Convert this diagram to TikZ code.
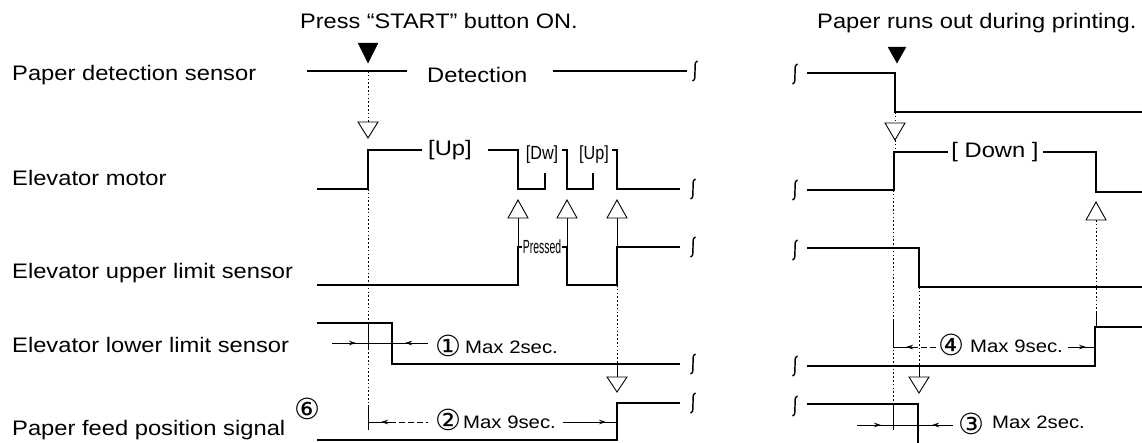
\documentclass[tikz,border=0pt]{standalone}
\usepackage{fontspec}
\usepackage{graphicx}
\setmainfont{Liberation Sans}
\newfontfamily\symfont{DejaVu Sans}
\usetikzlibrary{arrows.meta}
\newcommand{\stx}[1]{\scalebox{1.13}[1]{#1}}
\tikzset{
  sig/.style={line width=2.5pt, line join=miter},
  fine/.style={line width=0.8pt},
  dotl/.style={line width=0.8pt, dash pattern=on 1.6pt off 2.2pt},
  dashl/.style={line width=0.8pt, dash pattern=on 6pt off 3pt},
  lbl/.style={anchor=base west, inner sep=0pt, font=\fontsize{21}{25}\selectfont},
  dimlbl/.style={anchor=base west, inner sep=0pt, font=\fontsize{18}{22}\selectfont},
  circ/.style={inner sep=0pt, font=\symfont\fontsize{29}{32}\selectfont},
  midtxt/.style={inner sep=0pt, font=\fontsize{21}{25}\selectfont},
  smalltxt/.style={inner sep=0pt, font=\fontsize{19}{22}\selectfont},
  tip/.style={-{Stealth[length=7pt,width=4.5pt]}},
  opentri/.style={fill=white, draw, line width=0.9pt},
  filltri/.style={fill=black},
  squig/.pic={\draw[line width=1.4pt] (2.5,-10) .. controls (-1.5,-9) and (0.8,-3) .. (0,0) .. controls (-0.8,3) and (1.5,9) .. (-2.5,10);}
}
\begin{document}
\begin{tikzpicture}[x=1pt,y=-1pt]
\useasboundingbox (0,0) rectangle (1142,442);

% ---------- texts ----------
\node[lbl] (l1) at (12,80) {\stx{Paper detection sensor}};
\node[lbl] (l2) at (12,185) {\stx{Elevator motor}};
\node[lbl] (l3) at (12,278) {\stx{Elevator upper limit sensor}};
\node[lbl] (l4) at (12,352) {\stx{Elevator lower limit sensor}};
\node[lbl] (l5) at (12,435) {\stx{Paper feed position signal}};
\node[circ] (c6) at (307,409) {⑥};
\node[lbl] (t1) at (300,28) {\scalebox{1.12}[1]{Press “START” button ON.}};
\node[lbl] (t2) at (817,28) {\stx{Paper runs out during printing.}};
\node[lbl] (det) at (427,82) {\stx{Detection}};

\node[midtxt] (up1) at (450,150) {\stx{[Up]}};
\node[smalltxt] (dw) at (542,155) {\scalebox{0.85}[1]{[Dw]}};
\node[smalltxt] (up2) at (594,155) {\scalebox{0.85}[1]{[Up]}};
\node[midtxt] (down) at (995,152) {\stx{[ Down ]}};
\node[smalltxt] (prs) at (542,247) {\scalebox{0.55}[1]{Pressed}};

\node[circ] (n1) at (448,346) {①};
\node[dimlbl] (d1) at (465,353) {\stx{Max 2sec.}};
\node[circ] (n2) at (448,420) {②};
\node[dimlbl] (d2) at (463,428) {\stx{Max 9sec.}};
\node[circ] (n4) at (951,345) {④};
\node[dimlbl] (d4) at (970,352) {\stx{Max 9sec.}};
\node[circ] (n3) at (971,424) {③};
\node[dimlbl] (d3) at (992,428) {\stx{Max 2sec.}};

% ---------- left: paper detection ----------
\draw[sig] (307,71) -- (407,71);
\draw[sig] (553,71) -- (687,71);
\pic at (695,71) {squig};
\draw[filltri] (368,63) -- (358,43) -- (378,43) -- cycle;
\draw[dotl] (368,71) -- (368,122);
\draw[opentri] (368,138) -- (358,122) -- (378,122) -- cycle;

% ---------- left: elevator motor ----------
\draw[sig] (317,189) -- (368,189) -- (368,150) -- (422,150);
\draw[sig] (488,150) -- (518,150) -- (518,189) -- (545,189) -- (545,173);
\draw[sig] (562,150) -- (567,150) -- (567,189) -- (593,189) -- (593,173);
\draw[sig] (612,150) -- (617,150) -- (617,189) -- (680,189);
\pic at (693,189) {squig};

% ---------- left: upper limit ----------
\draw[sig] (317,285) -- (518,285) -- (518,247) -- (522,247);
\draw[sig] (562,247) -- (567,247) -- (567,285) -- (617,285) -- (617,247) -- (680,247);
\pic at (693,247) {squig};
\draw[fine] (518,218) -- (518,247);
\draw[fine] (567,218) -- (567,285);
\draw[fine] (617,218) -- (617,247);
\draw[opentri] (518,200) -- (508,218) -- (528,218) -- cycle;
\draw[opentri] (567,200) -- (557,218) -- (577,218) -- cycle;
\draw[opentri] (617,200) -- (607,218) -- (627,218) -- cycle;

% ---------- left: lower limit ----------
\draw[sig] (317,323) -- (392,323) -- (392,364) -- (680,364);
\pic at (693,364) {squig};
\draw[dotl] (617,285) -- (617,364);
\draw[fine] (617,364) -- (617,377);
\draw[opentri] (617,392) -- (607,377) -- (627,377) -- cycle;

% ---------- left: paper feed ----------
\draw[sig] (317,440) -- (617,440) -- (617,403) -- (680,403);
\pic at (693,403) {squig};

% left vertical reference
\draw[dotl] (368,189) -- (368,430);
\draw[fine] (368,323) -- (368,350);
\draw[fine] (368,405) -- (368,428);

% dimension 1
\draw[fine] (332,343) -- (428,343);
\draw[fine,tip] (340,343) -- (356,343);
\draw[fine,tip] (420,343) -- (405,343);
% dimension 2
\draw[fine] (368,422) -- (390,422);
\draw[dashl] (390,422) -- (428,422);
\draw[fine,tip] (392,422) -- (381,422);
\draw[fine] (563,422) -- (617,422);
\draw[fine,tip] (590,422) -- (606,422);

% ---------- right: paper detection ----------
\pic at (795,74) {squig};
\draw[sig] (807,73) -- (895,73) -- (895,112) -- (1142,112);
\draw[filltri] (897,63) -- (888,47) -- (906,47) -- cycle;
\draw[dotl] (895,112) -- (895,123);
\draw[opentri] (895,140) -- (885,123) -- (905,123) -- cycle;
\draw[dotl] (895,140) -- (895,152);

% ---------- right: motor ----------
\pic at (795,190) {squig};
\draw[sig] (807,190) -- (894,190) -- (894,152) -- (948,152);
\draw[sig] (1043,152) -- (1096,152) -- (1096,192) -- (1142,192);
\draw[opentri] (1096,202) -- (1086,220) -- (1106,220) -- cycle;
\draw[dotl] (1096,220) -- (1096,312);
\draw[fine] (1096,312) -- (1096,327);

% ---------- right: upper limit ----------
\pic at (795,250) {squig};
\draw[sig] (807,248) -- (919,248) -- (919,287) -- (1142,287);
\draw[dotl] (919,287) -- (919,364);
\draw[fine] (919,364) -- (919,377);
\draw[opentri] (919,393) -- (909,377) -- (929,377) -- cycle;

% ---------- right: lower limit ----------
\pic at (795,366) {squig};
\draw[sig] (807,366) -- (1095,366) -- (1095,327) -- (1142,327);

% ---------- right: paper feed ----------
\pic at (795,406) {squig};
\draw[sig] (807,404) -- (918,404) -- (918,445);

% right vertical reference
\draw[dotl] (893,190) -- (893,430);
\draw[fine] (893,320) -- (893,347);
\draw[fine] (893,404) -- (893,430);

% dimension 4
\draw[fine] (893,347) -- (912,347);
\draw[dashl] (912,347) -- (937,347);
\draw[fine,tip] (915,347) -- (906,347);
\draw[fine] (1068,347) -- (1095,347);
\draw[fine,tip] (1070,347) -- (1086,347);
% dimension 3
\draw[fine] (857,425) -- (953,425);
\draw[fine,tip] (865,425) -- (881,425);
\draw[fine,tip] (945,425) -- (932,425);
\end{tikzpicture}
\end{document}
